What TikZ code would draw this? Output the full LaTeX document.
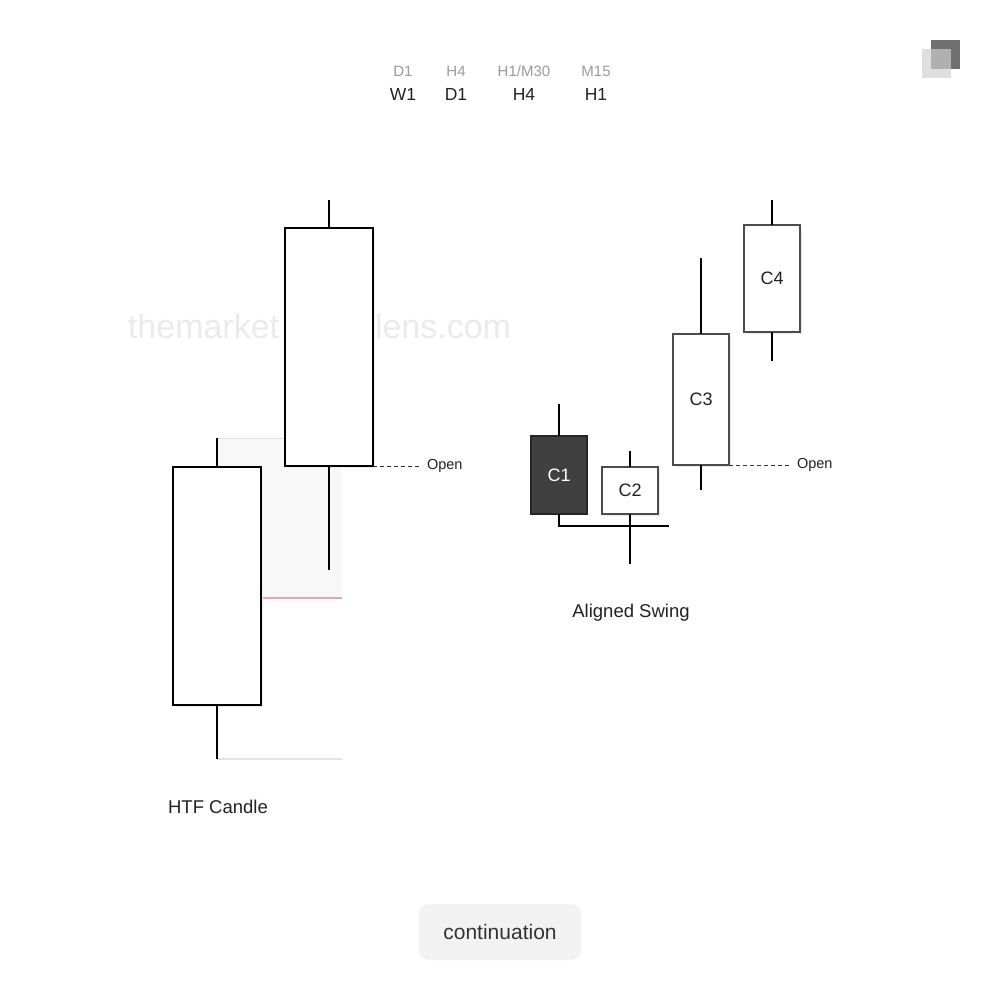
\documentclass[tikz,border=0pt]{standalone}
\usepackage{fontspec}
\setmainfont{Liberation Sans}
\definecolor{ink}{HTML}{222222}
\definecolor{tfgray}{HTML}{9A9A9A}
\definecolor{wmark}{HTML}{EBEBEB}
\definecolor{zone}{HTML}{F8F8F8}
\definecolor{zoneline}{HTML}{E4E4E4}
\definecolor{redline}{HTML}{F4A0A5}
\definecolor{bear}{HTML}{404040}
\definecolor{btn}{HTML}{F2F2F2}
\definecolor{logodark}{HTML}{707070}
\definecolor{logolight}{HTML}{CFCFCF}
\begin{document}
\begin{tikzpicture}[x=1pt,y=-1pt,
  every node/.style={inner sep=0pt, outer sep=0pt, text=ink},
  body/.style={draw=black, line width=1.2pt, fill=white, minimum width=88pt},
  sbody/.style={draw=black!70, line width=1.1pt, fill=white, minimum width=56pt},
  wick/.style={line width=1.2pt, black},
  tfsmall/.style={text=tfgray, font=\fontsize{15}{17}\selectfont},
  tfbig/.style={text=ink, font=\fontsize{17.5}{20}\selectfont},
  caption/.style={font=\fontsize{18.5}{22}\selectfont, text=ink},
  openlbl/.style={font=\fontsize{14.5}{16}\selectfont, anchor=west, text=ink},
  clbl/.style={font=\fontsize{18}{20}\selectfont},
  opendash/.style={line width=0.8pt, dash pattern=on 4pt off 3pt, black!80},
  wm/.style={font=\fontsize{34}{40}\selectfont, text=wmark, anchor=west}
]
\useasboundingbox (0,0) rectangle (1000,1000);
\fill[white] (0,0) rectangle (1000,1000);

% logo
\fill[logodark] (931,40) rectangle (960,69);
\fill[logolight, opacity=0.68] (922,49) rectangle (951,78);

% timeframe header
\node[tfsmall] (s1) at (403,71) {D1};
\node[tfsmall] (s2) at (456,71) {H4};
\node[tfsmall] (s3) at (524,71) {H1/M30};
\node[tfsmall] (s4) at (596,71) {M15};
\node[tfbig] (b1) at (403,94) {W1};
\node[tfbig] (b2) at (456,94) {D1};
\node[tfbig] (b3) at (524,94) {H4};
\node[tfbig] (b4) at (596,94) {H1};

% watermark
\node[wm] (wm1) at (128,326) {themarket};
\node[wm] (wm2) at (375,326) {lens.com};

% zone behind HTF candle
\fill[zone] (217,438) rectangle (342,598);
\draw[zoneline, line width=1pt] (217,438) -- (342,438);
\draw[zoneline, line width=1.2pt] (217,759) -- (342,759);
\draw[redline, line width=1.8pt] (261,598) -- (342,598);

% shadows
\fill[black!7] (175,469) rectangle (263,707);
\fill[black!7] (287,230) rectangle (375,468);
\fill[black!7] (604,469) rectangle (660,516);
\fill[black!7] (675,336) rectangle (731,467);
\fill[black!7] (746,227) rectangle (802,334);

% HTF candles
\node[body, minimum height=238pt] (h1) at (217,586) {};
\coordinate (h1t) at (217,438);
\coordinate (h1b) at (217,759);
\draw[wick] (h1.north) -- (h1t);
\draw[wick] (h1.south) -- (h1b);

\node[body, minimum height=238pt] (h2) at (329,347) {};
\coordinate (h2t) at (329,200);
\coordinate (h2b) at (329,570);
\draw[wick] (h2.north) -- (h2t);
\draw[wick] (h2.south) -- (h2b);

\node[openlbl] (open1) at (427,466) {Open};
\draw[opendash] (h2.south east) -- ([xshift=-7pt]open1.west);

\node[caption] (cap1) at (218,807) {HTF Candle};

% aligned swing candles
\node[sbody, fill=bear, draw=black!85, minimum height=78pt] (c1) at (559,475) {};
\node[clbl, text=white] (c1l) at (c1.center) {C1};
\coordinate (c1t) at (559,404);
\coordinate (c1b) at (559,526);
\coordinate (c1r) at (669,526);
\draw[wick] (c1.north) -- (c1t);
\draw[wick] (c1.south) -- (c1b) -- (c1r);

\node[sbody, minimum height=47pt] (c2) at (630,490.5) {};
\node[clbl] (c2l) at (c2.center) {C2};
\coordinate (c2t) at (630,451);
\coordinate (c2b) at (630,564);
\draw[wick] (c2.north) -- (c2t);
\draw[wick] (c2.south) -- (c2b);

\node[sbody, minimum height=131pt] (c3) at (701,399.5) {};
\node[clbl] (c3l) at (c3.center) {C3};
\coordinate (c3t) at (701,258);
\coordinate (c3b) at (701,490);
\draw[wick] (c3.north) -- (c3t);
\draw[wick] (c3.south) -- (c3b);

\node[sbody, minimum height=107pt] (c4) at (772,278.5) {};
\node[clbl] (c4l) at (c4.center) {C4};
\coordinate (c4t) at (772,200);
\coordinate (c4b) at (772,361);
\draw[wick] (c4.north) -- (c4t);
\draw[wick] (c4.south) -- (c4b);

\node[openlbl] (open2) at (797,465) {Open};
\draw[opendash] (c3.south east) -- ([xshift=-7pt]open2.west);

\node[caption] (cap2) at (631,613) {Aligned Swing};

% button
\node[fill=btn, rounded corners=10pt, minimum width=162pt, minimum height=56pt,
      font=\fontsize{21}{24}\selectfont, text=black!80] (btn) at (500,932) {continuation};
\end{tikzpicture}
\end{document}
